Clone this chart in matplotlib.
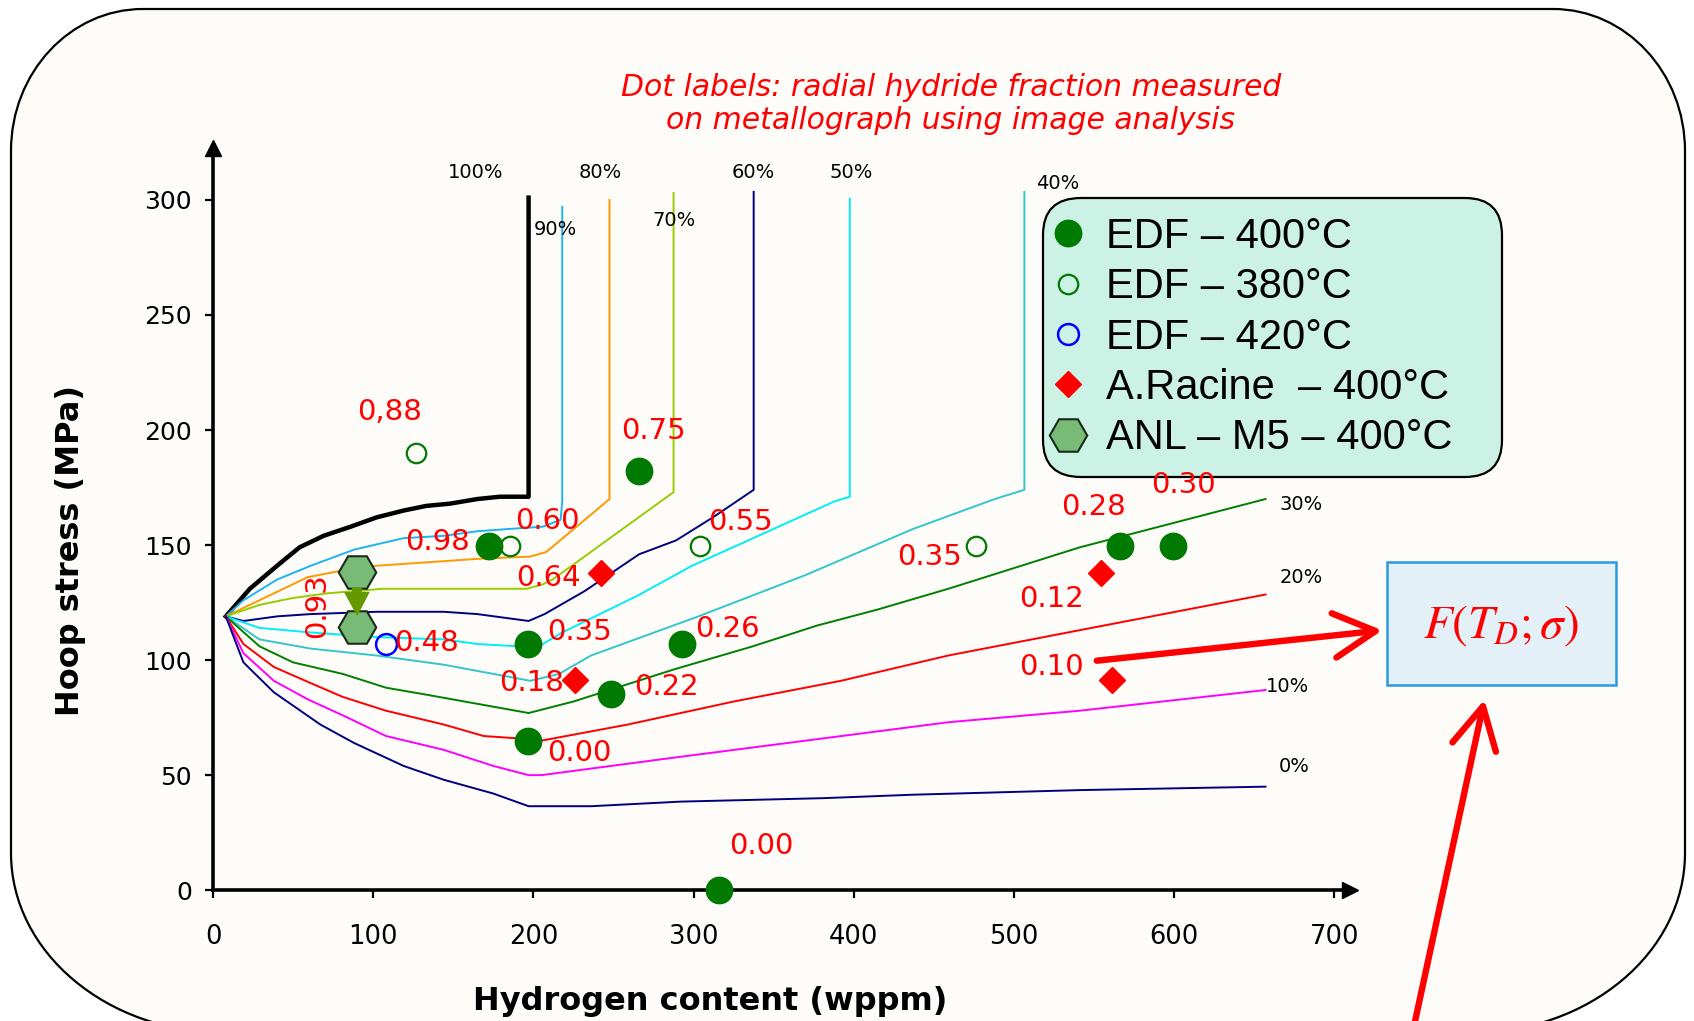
import numpy as np
import matplotlib.pyplot as plt
from matplotlib.patches import FancyBboxPatch, FancyArrowPatch, PathPatch
from matplotlib.path import Path
from matplotlib.transforms import IdentityTransform

# isolines of radial hydride fraction: (wppm, MPa)
c100_x = [8, 23, 40, 54, 69, 86, 102, 119, 133, 148, 165, 179, 197, 197]
c100_y = [119, 131, 141, 149, 154, 158, 162, 165, 167, 168, 170, 171, 171, 301]
c90_x = [8, 19, 40, 61, 88, 119, 144, 165, 185, 206, 217, 218, 218]
c90_y = [119, 126, 135, 141, 148, 153, 154, 156, 157, 158, 161, 169, 297]
c80_x = [8, 29, 59, 81, 102, 123, 165, 198, 208, 239, 247.5, 247.5]
c80_y = [119, 126, 136, 139, 141, 142, 144, 145, 147, 165, 170, 300]
c70_x = [8, 29, 50, 71, 106, 196, 206, 212, 287.5, 287.5]
c70_y = [119, 124, 127, 129, 131, 131, 133, 135, 173, 303]
c60_x = [8, 19, 40, 61, 102, 144, 165, 197, 207, 232, 266, 289, 312, 337.5, 337.5]
c60_y = [119, 117, 119, 120, 121, 121, 120, 117, 120, 130, 146, 152, 162, 174, 303.5]
c50_x = [8, 29, 61, 102, 144, 165, 190, 201, 218, 265, 299, 334, 388, 397.5, 397.5]
c50_y = [119, 114, 112, 110, 109, 107, 106, 105, 112, 128, 141, 152, 169, 171, 300.5]
c40_x = [8, 29, 61, 102, 144, 175, 198, 216, 236, 303, 370, 437, 488, 506.5, 506.5]
c40_y = [119, 109, 105, 102, 98, 94, 91, 94, 102, 119, 137, 157, 170, 174, 303.5]
c30_x = [8, 29, 50, 81, 108, 133, 165, 197, 225, 288, 337, 377, 415, 459, 541, 657]
c30_y = [119, 106, 99, 94, 88, 85, 81, 77, 82, 96, 106, 115, 122, 131, 149, 170]
c20_x = [8, 19, 38, 61, 81, 108, 144, 169, 190, 205, 259, 325, 392, 459, 541, 657]
c20_y = [119, 107, 97, 90, 84, 78, 72, 67, 66, 65, 72, 82, 91, 102, 113, 128.5]
c10_x = [8, 19, 38, 59, 81, 108, 144, 175, 197, 205, 281, 370, 459, 541, 657]
c10_y = [119, 103, 91, 83, 76, 67, 61, 54, 50, 50, 57, 65, 73, 78, 87]
c0_x = [8, 19, 38, 67, 88, 119, 144, 175, 197, 236, 292, 381, 437, 541, 657]
c0_y = [119, 99, 86, 72, 64, 54, 48, 42, 36.5, 36.5, 38.5, 40, 41.5, 43.5, 45]

curve_names = ["100%", "90%", "80%", "70%", "60%", "50%", "40%", "30%", "20%", "10%", "0%"]
curve_label_x = [164, 214, 241.5, 287.5, 337, 398.5, 527.5, 679.5, 679.5, 671, 675]
curve_label_y = [312, 287, 312, 291, 312, 312, 307, 167.5, 136, 88.5, 53.7]

# measured points
edf400_x = [172, 196.5, 266, 248.5, 293, 196.5, 316, 566, 599.5]
edf400_y = [149.7, 107, 182, 85.3, 107, 64.7, 0, 149.5, 149.5]
edf380_x = [127, 185.5, 304, 476]
edf380_y = [190, 149.7, 149.7, 149.7]
edf420_x = [108]
edf420_y = [107]
racine_x = [242.4, 226.2, 554, 561]
racine_y = [138, 91.4, 137.7, 91.4]
anl_x = [89.8, 90]
anl_y = [138.4, 114.5]

# radial hydride fraction labels
frac_text = ["0,88", "0.75", "0.98", "0.60", "0.64", "0.55", "0.48", "0.35", "0.26",
             "0.18", "0.22", "0.00", "0.00", "0.35", "0.28", "0.30", "0.12", "0.10"]
frac_x = [110, 275, 140, 208.5, 209.5, 329, 133.5, 228.5, 321, 199, 283, 228.5, 342,
          447, 549.5, 605.5, 523.5, 523.5]
frac_y = [208, 199.5, 151.5, 160.5, 135.5, 160.2, 107.5, 112, 113.3, 90, 88.3, 59.5,
          19, 145, 166.5, 176, 126.5, 97.1]

W, H = 1694, 1021
XMAX, YMAX = 710, 322.5
PX, PY = 1.602, 2.301          # pixels per data unit
X0, Y0 = 213, 890.2            # pixel position of the origin (from the top)
AW, AH = XMAX * PX, YMAX * PY

fig = plt.figure(figsize=(W / 100, H / 100), dpi=100)
fig.patch.set_facecolor("white")


def frame_path(x0, x1, top, bot, rtx, rty, rbx, rby):
    k = 0.5523
    v = [(x0 + rtx, top), (x1 - rtx, top),
         (x1 - rtx + k * rtx, top), (x1, top - rty + k * rty), (x1, top - rty),
         (x1, bot + rby),
         (x1, bot + rby - k * rby), (x1 - rbx + k * rbx, bot), (x1 - rbx, bot),
         (x0 + rbx, bot),
         (x0 + rbx - k * rbx, bot), (x0, bot + rby - k * rby), (x0, bot + rby),
         (x0, top - rty),
         (x0, top - rty + k * rty), (x0 + rtx - k * rtx, top), (x0 + rtx, top)]
    c = [Path.MOVETO, Path.LINETO, Path.CURVE4, Path.CURVE4, Path.CURVE4, Path.LINETO,
         Path.CURVE4, Path.CURVE4, Path.CURVE4, Path.LINETO, Path.CURVE4, Path.CURVE4,
         Path.CURVE4, Path.LINETO, Path.CURVE4, Path.CURVE4, Path.CURVE4]
    return Path(v, c)


fig.add_artist(PathPatch(frame_path(11, 1685, H - 9, H - 1033, 132, 142, 215, 180),
                         transform=IdentityTransform(), fc="#FDFCF8", ec="black",
                         lw=1.6, zorder=0))

ax = fig.add_axes([X0 / W, (H - Y0) / H, AW / W, AH / H])
ax.set_xlim(0, XMAX)
ax.set_ylim(0, YMAX)
ax.patch.set_alpha(0)
for s in ["top", "right"]:
    ax.spines[s].set_visible(False)
for s in ["left", "bottom"]:
    ax.spines[s].set_linewidth(2.6)
ax.plot(1, 0, ">k", ms=11, transform=ax.transAxes, clip_on=False)
ax.plot(0, 1, "^k", ms=11, transform=ax.transAxes, clip_on=False)

ax.set_xticks(range(0, 701, 100))
ax.set_yticks(range(0, 301, 50))
ax.tick_params(direction="out", length=6, width=1.6)
ax.tick_params(axis="x", pad=18)
ax.tick_params(axis="y", pad=9)
for t in ax.get_yticklabels():
    t.set_fontsize(18)
for t in ax.get_xticklabels():
    t.set_fontsize(18.5)

ax.set_xlabel("Hydrogen content (wppm)", fontsize=23, fontweight="bold")
ax.xaxis.set_label_coords((710 - X0) / AW, -(986 - Y0) / AH)
ax.set_ylabel("Hoop stress (MPa)", fontsize=23, fontweight="bold")
ax.yaxis.set_label_coords(-(X0 - 86) / AW, (Y0 - 551) / AH)

curves = [(c100_x, c100_y, "black", 3.2), (c90_x, c90_y, "#1EB4F0", 1.4),
          (c80_x, c80_y, "#FF9900", 1.4), (c70_x, c70_y, "#99CC00", 1.4),
          (c60_x, c60_y, "#000080", 1.4), (c50_x, c50_y, "#00EEF5", 1.4),
          (c40_x, c40_y, "#33C6CC", 1.4), (c30_x, c30_y, "#008000", 1.4),
          (c20_x, c20_y, "#FF0000", 1.4), (c10_x, c10_y, "#FF00FF", 1.4),
          (c0_x, c0_y, "#000080", 1.4)]
for cx, cy, col, lw in curves:
    ax.plot(cx, cy, color=col, lw=lw, zorder=2)

for name, lx, ly in zip(curve_names, curve_label_x, curve_label_y):
    ax.text(lx, ly, name, fontsize=14, ha="center", va="center")

h1, = ax.plot(edf400_x, edf400_y, "o", color="#007A00", ms=19, ls="none",
              label="EDF \u2013 400°C", zorder=4, clip_on=False)
h2, = ax.plot(edf380_x, edf380_y, "o", mfc="none", mec="#007A00", mew=1.6, ms=14,
              ls="none", label="EDF \u2013 380°C", zorder=4)
h3, = ax.plot(edf420_x, edf420_y, "o", mfc="none", mec="#0000FF", mew=1.8, ms=15,
              ls="none", label="EDF \u2013 420°C", zorder=4)
h4, = ax.plot(racine_x, racine_y, "D", color="#FF0000", ms=13, ls="none",
              label="A.Racine  \u2013 400°C", zorder=4)
h5, = ax.plot(anl_x, anl_y, "H", mfc="#77BB77", mec="#1A2A1A", mew=1.5, ms=27,
              ls="none", label="ANL \u2013 M5 \u2013 400°C", zorder=4)

ax.annotate("", xy=(anl_x[1], anl_y[1] + 4), xytext=(anl_x[0], anl_y[0] - 6),
            arrowprops=dict(arrowstyle="simple,head_length=0.8,head_width=0.85,tail_width=0.3",
                            color="#669900", mutation_scale=20), zorder=5)

for s, lx, ly in zip(frac_text, frac_x, frac_y):
    ax.text(lx, ly, s, color="red", fontsize=21, ha="center", va="center", zorder=6)
ax.text(64.7, 123.5, "0.93", color="red", fontsize=21, ha="center", va="center",
        rotation=90, zorder=6)

leg = ax.legend(handles=[h1, h2, h3, h4, h5], loc="upper left", mode="expand",
                bbox_to_anchor=((1043 - X0) / AW, (Y0 - 468) / AH,
                                (1502 - 1043) / AW, (468 - 198) / AH),
                prop={"family": "Liberation Sans", "size": 30}, frameon=True,
                facecolor="#CCF1E5", edgecolor="black", framealpha=1,
                borderpad=0.45, labelspacing=0.25, handlelength=0.3,
                handletextpad=0.75, borderaxespad=0)
leg.get_frame().set_linewidth(1.6)
leg.get_frame().set_boxstyle("round,pad=0,rounding_size=0.9")

fig.text(951 / W, 1 - 104 / H,
         "Dot labels: radial hydride fraction measured\non metallograph using image analysis",
         ha="center", va="center", color="red", style="italic", fontsize=21.5,
         linespacing=1.18)

fig.add_artist(FancyBboxPatch((1387, H - 685), 229, 123, boxstyle="square,pad=0",
                              transform=IdentityTransform(), fc="#E3F0F8", ec="#2C9AE0",
                              lw=1.8, zorder=3))
plt.rcParams["mathtext.fontset"] = "stix"
fig.text(1501 / W, 1 - 626 / H, r"$F(T_D;\sigma)$", color="red", fontsize=34,
         ha="center", va="center", zorder=4)

for a, b in [((1094, H - 661), (1385, H - 630)), ((1411, H - 1040), (1485, H - 697))]:
    fig.add_artist(FancyArrowPatch(a, b, arrowstyle="->,head_length=1.5,head_width=0.8",
                                   mutation_scale=20, transform=IdentityTransform(),
                                   color="red", lw=4.6, capstyle="round",
                                   joinstyle="round", zorder=5))

fig.savefig("out.png", dpi=100)
